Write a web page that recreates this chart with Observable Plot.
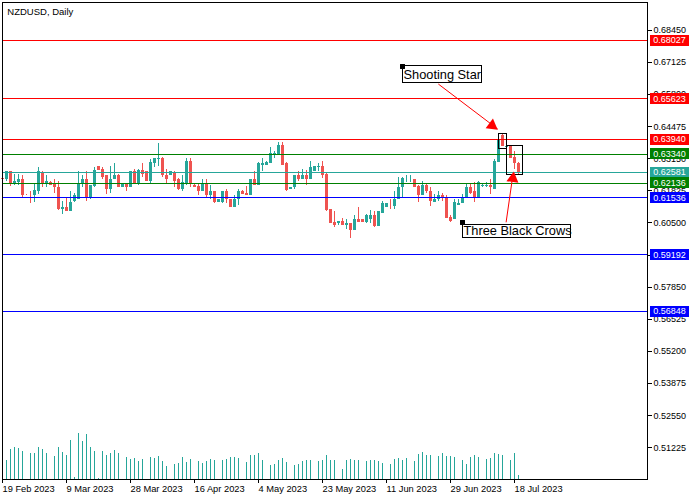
<!DOCTYPE html>
<html><head><meta charset="utf-8">
<style>html,body{margin:0;padding:0;background:#fff}svg{display:block}</style>
<script src="https://cdn.jsdelivr.net/npm/d3@7"></script>
<script src="https://cdn.jsdelivr.net/npm/@observablehq/plot@0.6"></script>
</head><body><div id="chart"></div>
<script>
const titleText = "NZDUSD, Daily";
const open = [.62355,.62314,.62603,.62108,.62190,.62314,.61654,.61654,.61613,.61819,.62561,.62149,.62190,.62149,.61984,.61076,.61159,.60994,.61406,.61489,.62149,.62314,.61530,.62025,.62850,.62726,.62438,.61901,.62273,.62479,.61943,.62108,.61984,.62603,.62108,.62685,.62603,.62231,.62974,.63139,.63180,.62479,.62438,.62561,.62273,.61901,.62108,.63056,.62066,.62025,.61778,.62108,.61613,.61778,.61365,.61365,.61778,.61489,.61159,.61448,.61819,.61736,.61613,.62273,.62066,.62891,.62891,.62974,.63345,.63304,.63716,.62933,.61901,.61943,.62438,.62314,.62479,.62314,.62644,.62809,.62850,.62520,.61076,.60540,.60458,.60581,.60416,.60458,.60210,.60664,.60623,.60540,.60664,.60788,.60375,.60911,.61118,.61324,.61200,.61489,.61984,.62273,.62273,.62314,.62025,.61654,.62066,.61819,.61365,.61448,.61613,.61571,.60746,.60623,.61241,.61283,.61530,.61984,.61778,.61571,.62025,.62025,.62066,.61901,.63015,.64129,.63634,.63675,.63221,.62974];
const high = [.62355,.62644,.62644,.62520,.62520,.62438,.61695,.61819,.62108,.62768,.62603,.62438,.62231,.62273,.62231,.61406,.61530,.61778,.61736,.62644,.62479,.62644,.62066,.62768,.62850,.62809,.62479,.62850,.62974,.62520,.62108,.62108,.62603,.62726,.62726,.62974,.62603,.63098,.63180,.63799,.63221,.62726,.62603,.62603,.62355,.62438,.63180,.63180,.62108,.62108,.62273,.62273,.62066,.61819,.61489,.61778,.61901,.61489,.61613,.61901,.61860,.62025,.62314,.62603,.63015,.63180,.63056,.63593,.63469,.63840,.63840,.63015,.61984,.62479,.62603,.62726,.62685,.63056,.62850,.62933,.63056,.62561,.61076,.60994,.60581,.60705,.60664,.60458,.60788,.61118,.60623,.60870,.61035,.60994,.60953,.61406,.61324,.61489,.61778,.62396,.62396,.62479,.62479,.62314,.62066,.62231,.62149,.61984,.61695,.61778,.61736,.61613,.60788,.61448,.61448,.61695,.62149,.62149,.62190,.62231,.62149,.62190,.62273,.63098,.63964,.64211,.63675,.63716,.63469,.63015];
const low = [.62314,.62231,.62025,.62066,.62066,.61571,.61613,.61324,.61365,.61695,.61984,.61943,.62066,.61736,.61035,.60870,.60953,.60953,.61365,.61448,.61984,.61406,.61489,.61943,.62685,.62314,.61695,.61736,.62273,.61943,.61943,.61819,.61984,.62108,.62066,.62396,.62231,.62149,.62768,.62850,.62396,.62149,.62438,.61943,.61860,.61819,.62066,.61984,.61984,.61613,.61778,.61530,.61489,.61283,.61365,.61283,.61324,.61118,.61159,.61241,.61695,.61613,.61613,.62066,.62066,.62644,.62891,.62974,.63180,.63263,.62891,.61819,.61901,.61901,.62231,.62314,.62066,.62314,.62644,.62644,.62355,.60953,.60458,.60334,.60416,.60416,.60251,.59880,.60210,.60540,.60540,.60458,.60458,.60334,.60375,.60911,.61118,.61076,.61076,.61448,.61530,.62190,.62190,.61943,.61365,.61613,.61736,.61200,.61365,.61406,.61406,.60705,.60540,.60623,.61241,.61283,.61530,.61695,.61365,.61530,.61984,.61984,.61695,.61901,.63015,.63675,.63634,.63180,.62726,.62520];
const close = [.62314,.62603,.62108,.62231,.62314,.61613,.61613,.61613,.61860,.62603,.62149,.62231,.62066,.61943,.61076,.61159,.60994,.61365,.61613,.62149,.62314,.61530,.62066,.62685,.62685,.62396,.61901,.62314,.62479,.61984,.62108,.61984,.62603,.62149,.62685,.62520,.62231,.63015,.63180,.63180,.62438,.62314,.62603,.62231,.61901,.62190,.63056,.62108,.61984,.61778,.62108,.61613,.61819,.61365,.61448,.61778,.61448,.61159,.61489,.61819,.61695,.61613,.62273,.62066,.62933,.62974,.63015,.63386,.63386,.63716,.62891,.61860,.61984,.62438,.62314,.62479,.62314,.62768,.62850,.62850,.62479,.61035,.60499,.60416,.60581,.60416,.60458,.60210,.60664,.60540,.60540,.60788,.60788,.60375,.60953,.61324,.61324,.61283,.61489,.61984,.62355,.62314,.62314,.61984,.61654,.62066,.61778,.61406,.61489,.61654,.61530,.60705,.60581,.61365,.61324,.61571,.61984,.61736,.61530,.62190,.62066,.62066,.61943,.63056,.63923,.63675,.63675,.63180,.62933,.62561];
const volume = [0,580,910,970,940,850,0,790,790,970,910,790,0,700,970,820,730,1180,70,1390,1150,1360,970,850,40,850,730,790,880,790,0,670,610,640,550,610,0,670,640,700,550,400,0,460,490,670,520,610,0,550,490,550,610,580,0,580,610,670,670,640,0,520,730,730,790,580,0,430,460,580,640,520,0,430,460,550,580,580,0,550,580,730,580,580,0,310,580,610,580,580,0,550,580,580,550,490,0,460,610,640,580,640,0,550,760,820,730,730,0,700,790,700,700,670,0,580,460,670,730,670,0,610,640,790,760,730,0,580,790,130];
const dateSlots = [0,16,32,48,64,80,96,112,128];
const dateLabels = ["19 Feb 2023","9 Mar 2023","28 Mar 2023","16 Apr 2023","4 May 2023","23 May 2023","11 Jun 2023","29 Jun 2023","18 Jul 2023"];
const priceTicks = [0.6845,0.67125,0.658,0.64475,0.6315,0.61825,0.605,0.59175,0.5785,0.56525,0.552,0.53875,0.5255,0.51225];
const levelValues = [0.68027,0.65623,0.6394,0.6334,0.62581,0.62136,0.61536,0.59192,0.56848];
const levelColors = ["#ff0000","#ff0000","#ff0000","#008000","#26a69a","#008000","#0000ff","#0000ff","#0000ff"];
const UP = "#26a69a", DOWN = "#ef5350";
const yTop = 0.69595, yBottom = 0.49918, slotMax = 161.25;
const volUnit = 0.00001375;
const tagHalf = 0.00227;
const slots = close.map((_, i) => i);
const font = "'Liberation Sans', Arial, sans-serif";
const patternBoxes = [
  {x1:124,x2:126,y1:.64170,y2:.63572},
  {x1:126,x2:130,y1:.63696,y2:.62479}
];
const noteBoxes = [
  {x1:100,x2:119.75,y1:.66955,y2:.66294,tx:100.25,ty:.66625,ax:100,ay:.66955,label:"Shooting Star"},
  {x1:115,x2:142,y1:.60437,y2:.59860,tx:115.25,ty:.60173,ax:115,ay:.60520,label:"Three Black Crows"}
];
const arrows = [
  {x1:108.95,y1:.66233,x2:123.8,y2:.64376,hx:122.4,hy:.64521,rot:127},
  {x1:125.9,y1:.60528,x2:127.6,y2:.62479,hx:127.6,hy:.62334,rot:8}
];
const crisp = {shapeRendering:"crispEdges"};
const color = i => close[i] >= open[i] ? UP : DOWN;
const svg = Plot.plot({
  width:700,height:500,marginLeft:2,marginRight:53,marginTop:2,marginBottom:21,
  style:{fontFamily:font,fontSize:"9px",color:"#000",background:"#fff",overflow:"visible"},
  x:{type:"linear",domain:[0,slotMax],range:[2,647]},
  y:{type:"linear",domain:[yTop,yBottom],range:[2,479]},
  marks:[
    Plot.ruleX(slots,{x:i=>i,y1:()=>yBottom,y2:i=>yBottom+volume[i]*volUnit,stroke:UP,strokeWidth:1,...crisp}),
    Plot.ruleX(slots,{x:i=>i,y1:i=>low[i],y2:i=>high[i],stroke:{value:color,scale:null},strokeWidth:1,...crisp}),
    Plot.ruleX(slots,{x:i=>i,y1:i=>open[i],y2:i=>close[i],stroke:{value:color,scale:null},strokeWidth:3,...crisp}),
    Plot.ruleY(levelValues,{y:d=>d,stroke:{value:(d,i)=>levelColors[i],scale:null},strokeWidth:1,...crisp}),
    Plot.rect(patternBoxes,{x1:"x1",x2:"x2",y1:"y1",y2:"y2",fill:"none",stroke:"#000",strokeWidth:1,...crisp}),
    Plot.link(arrows,{x1:"x1",y1:"y1",x2:"x2",y2:"y2",stroke:"#ff0000",strokeWidth:1}),
    Plot.dot(arrows,{x:"hx",y:"hy",symbol:"triangle",r:4.5,fill:"#ff0000",stroke:"none",rotate:"rot"}),
    Plot.rect(noteBoxes,{x1:"x1",x2:"x2",y1:"y1",y2:"y2",fill:"#fff",stroke:"#000",strokeWidth:1,...crisp}),
    Plot.dot(noteBoxes,{x:"ax",y:"ay",symbol:"square",r:2.8,fill:"#000",stroke:"none"}),
    Plot.text(noteBoxes,{x:"tx",y:"ty",text:"label",textAnchor:"start",fontSize:12.8,fontFamily:font,fill:"#000"}),
    Plot.frame({stroke:"#000",strokeWidth:1,...crisp}),
    Plot.axisY(priceTicks,{anchor:"right",tickSize:4,tickPadding:2,tickFormat:d3.format(".5f"),label:null,fontSize:9,...crisp}),
    Plot.axisX(dateSlots,{anchor:"bottom",tickSize:4,tickPadding:2,tickFormat:k=>dateLabels[dateSlots.indexOf(k)],textAnchor:"start",label:null,fontSize:9.3}),
    Plot.rect(levelValues,{x1:()=>162,x2:()=>171.75,y1:d=>d+tagHalf,y2:d=>d-tagHalf,fill:{value:(d,i)=>levelColors[i],scale:null},...crisp}),
    Plot.text(levelValues,{x:()=>162.7,y:d=>d,text:d=>d.toFixed(5),textAnchor:"start",fill:"#fff",fontSize:9}),
    Plot.text([titleText],{x:()=>1.2,y:()=>.69215,text:d=>d,textAnchor:"start",fontSize:9.5,fill:"#000"})
  ]
});
document.getElementById("chart").append(svg);
</script></body></html>
